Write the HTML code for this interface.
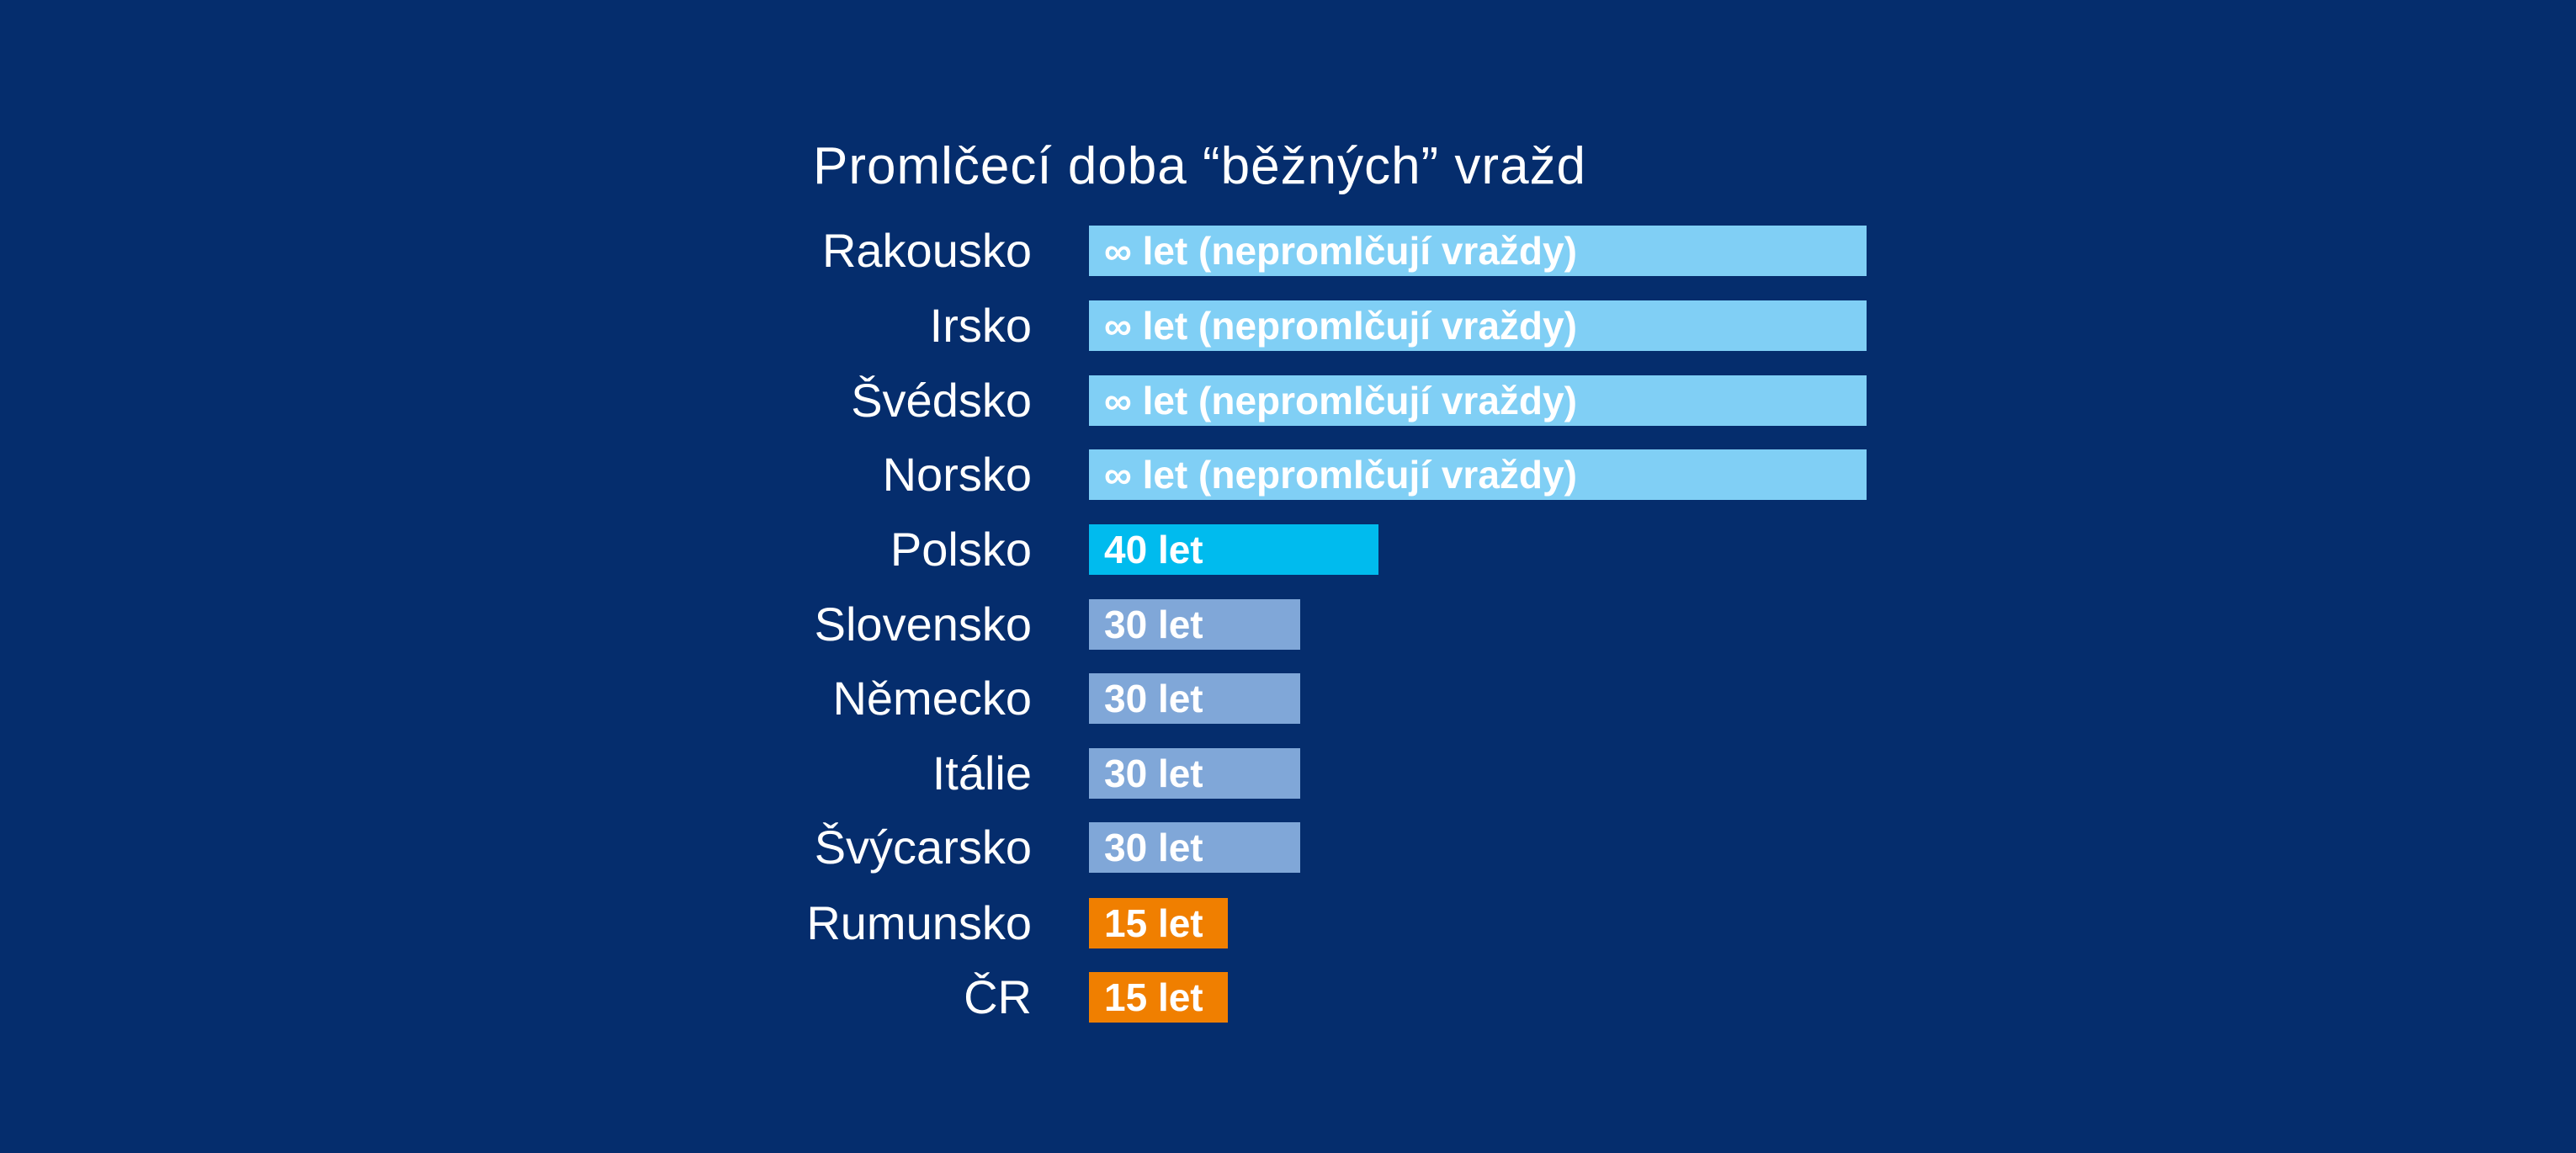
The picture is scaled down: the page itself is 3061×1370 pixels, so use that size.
<!DOCTYPE html>
<html><head><meta charset="utf-8"><style>
html,body{margin:0;padding:0}
body{width:3061px;height:1370px;background:#052d6d;position:relative;overflow:hidden;font-family:"Liberation Sans","DejaVu Sans",sans-serif;color:#fff}
.t{position:absolute;left:966px;top:162px;font-size:62px;white-space:nowrap;letter-spacing:1px}
.l{position:absolute;right:1835px;font-size:56px;white-space:nowrap;line-height:60px;text-align:right}
.b{position:absolute;left:1294px;height:60px;line-height:60px;font-weight:bold;font-size:46px;padding-left:18px;box-sizing:border-box;white-space:nowrap}
</style></head><body>
<div class="t">Promlčecí doba “běžných” vražd</div>

<div class="l" style="top:268px">Rakousko</div><div class="b" style="top:268px;width:924px;background:#80cff5">∞ let (nepromlčují vraždy)</div>
<div class="l" style="top:357px">Irsko</div><div class="b" style="top:357px;width:924px;background:#80cff5">∞ let (nepromlčují vraždy)</div>
<div class="l" style="top:446px">Švédsko</div><div class="b" style="top:446px;width:924px;background:#80cff5">∞ let (nepromlčují vraždy)</div>
<div class="l" style="top:534px">Norsko</div><div class="b" style="top:534px;width:924px;background:#80cff5">∞ let (nepromlčují vraždy)</div>
<div class="l" style="top:623px">Polsko</div><div class="b" style="top:623px;width:344px;background:#00bbee">40 let</div>
<div class="l" style="top:712px">Slovensko</div><div class="b" style="top:712px;width:251px;background:#80a7d8">30 let</div>
<div class="l" style="top:800px">Německo</div><div class="b" style="top:800px;width:251px;background:#80a7d8">30 let</div>
<div class="l" style="top:889px">Itálie</div><div class="b" style="top:889px;width:251px;background:#80a7d8">30 let</div>
<div class="l" style="top:977px">Švýcarsko</div><div class="b" style="top:977px;width:251px;background:#80a7d8">30 let</div>
<div class="l" style="top:1067px">Rumunsko</div><div class="b" style="top:1067px;width:165px;background:#f07f00">15 let</div>
<div class="l" style="top:1155px">ČR</div><div class="b" style="top:1155px;width:165px;background:#f07f00">15 let</div>
</body></html>
